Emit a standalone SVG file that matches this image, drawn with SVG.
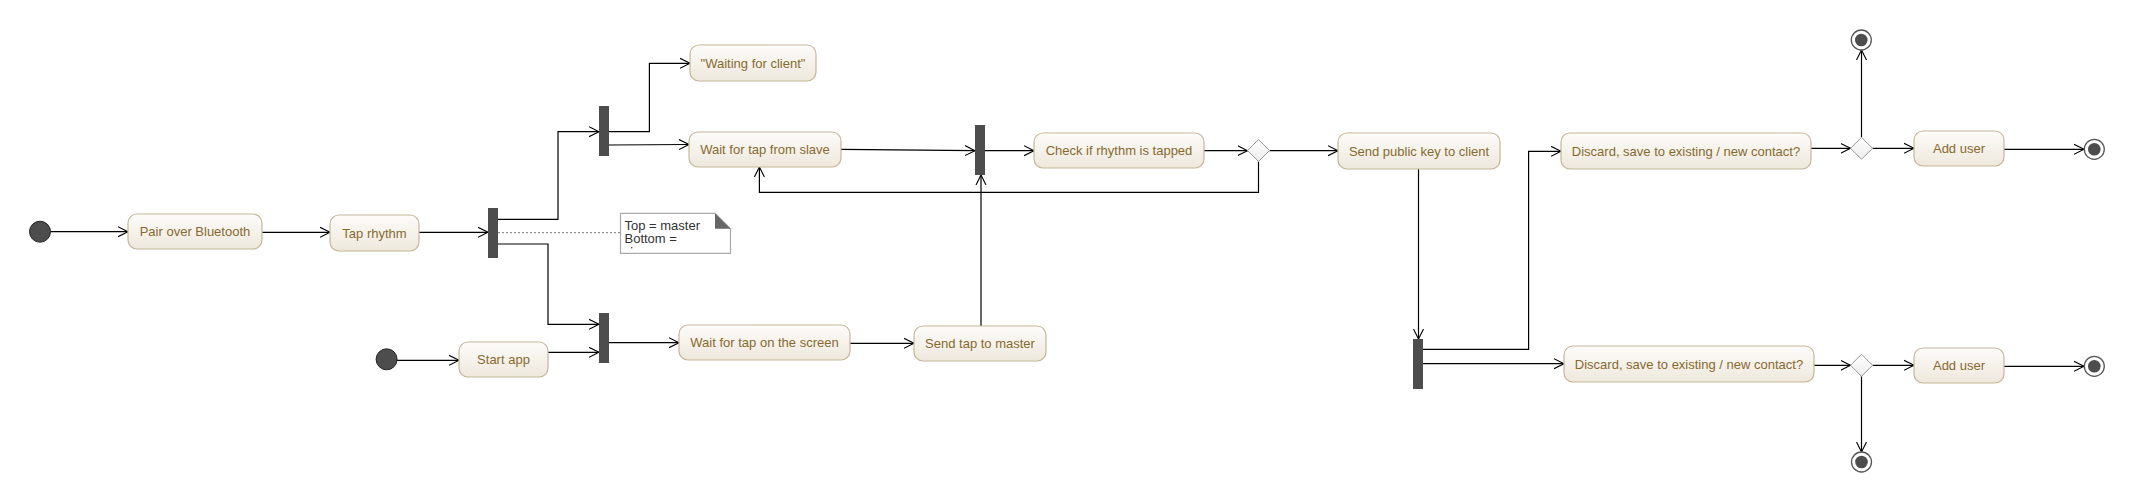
<svg xmlns="http://www.w3.org/2000/svg" width="2134" height="502" viewBox="0 0 2134 502">
<defs>
<linearGradient id="boxg" x1="0" y1="0" x2="0" y2="1">
<stop offset="0" stop-color="#fdfcfa"/>
<stop offset="1" stop-color="#eee8dc"/>
</linearGradient>
<linearGradient id="diag" x1="0" y1="0" x2="0" y2="1">
<stop offset="0" stop-color="#ffffff"/>
<stop offset="1" stop-color="#ececec"/>
</linearGradient>
<marker id="arr" markerUnits="userSpaceOnUse" markerWidth="12" markerHeight="12" refX="10" refY="5" orient="auto" viewBox="0 0 12 10">
<path d="M0,0 L10,5 L0,10" fill="none" stroke="#000" stroke-width="1.1"/>
</marker>
<style>
.act rect{fill:url(#boxg);stroke:#c6b698;stroke-width:1.2}
.act text{font-family:"Liberation Sans",Arial,sans-serif;font-size:13px;fill:#876a2f;text-anchor:middle;dominant-baseline:central}
.bar{fill:#4d4d4d}
.init{fill:#4d4d4d;stroke:#222;stroke-width:1}
.fin-o{fill:#fff;stroke:#555;stroke-width:1.3}
.fin-i{fill:#4d4d4d}
.dec{fill:url(#diag);stroke:#999;stroke-width:1}
#edges path{fill:none;stroke:#000;stroke-width:1.2;marker-end:url(#arr)}
#edges path.dot{stroke:#777;stroke-width:1;stroke-dasharray:2,2;marker-end:none}
.note text{font-family:"Liberation Sans",Arial,sans-serif;font-size:13px;fill:#333}
</style>
</defs>
<rect width="2134" height="502" fill="#fff"/>

<g id="edges">
<path d="M50.5,231.7 H128"/>
<path d="M262,232.3 H330"/>
<path d="M419,232.3 H488"/>
<path d="M498,219.3 H558 V131.7 H599"/>
<path d="M498,244 H548 V324.3 H599"/>
<path class="dot" d="M498,232.7 H620.5"/>
<path d="M397,360.3 H459"/>
<path d="M548,352.3 H599"/>
<path d="M609,131.7 H649.4 V63.3 H690"/>
<path d="M609,145 L689,144.5"/>
<path d="M609,342.7 H679"/>
<path d="M850,343.3 H914"/>
<path d="M981,326 V175"/>
<path d="M841,149.3 L975,150.7"/>
<path d="M985,150.7 H1034"/>
<path d="M1204,150.7 H1247.5"/>
<path d="M1258.5,161.5 V192.3 H759.4 V167"/>
<path d="M1269.5,150.7 H1338"/>
<path d="M1418.5,169 V339"/>
<path d="M1423,349.3 H1528.6 V151.3 H1561"/>
<path d="M1423,363.7 H1564"/>
<path d="M1811,148.3 H1850.5"/>
<path d="M1861.5,137.3 V50"/>
<path d="M1872.5,148.3 H1914"/>
<path d="M2004,149.3 H2084"/>
<path d="M1814,365.3 H1850.5"/>
<path d="M1861.5,376.3 V452"/>
<path d="M1872.5,365.3 H1914"/>
<path d="M2004,366.3 H2084"/>
</g>

<g id="start1"><circle class="init" cx="40" cy="231.7" r="10.5"/></g>
<g id="start2"><circle class="init" cx="386.6" cy="359.3" r="10.5"/></g>

<g id="pair" class="act"><rect x="128" y="214" width="134" height="35" rx="9"/><text x="195" y="231.5">Pair over Bluetooth</text></g>
<g id="tap" class="act"><rect x="330" y="215" width="89" height="36" rx="9"/><text x="374.5" y="233">Tap rhythm</text></g>
<g id="startapp" class="act"><rect x="459" y="342" width="89" height="35" rx="9"/><text x="503.5" y="359.5">Start app</text></g>
<g id="waiting" class="act"><rect x="690" y="45" width="126" height="36" rx="9"/><text x="753" y="63">"Waiting for client"</text></g>
<g id="waitslave" class="act"><rect x="689" y="132" width="152" height="35" rx="9"/><text x="765" y="149.5">Wait for tap from slave</text></g>
<g id="waitscreen" class="act"><rect x="679" y="325" width="171" height="35" rx="9"/><text x="764.5" y="342.5">Wait for tap on the screen</text></g>
<g id="sendtap" class="act"><rect x="914" y="326" width="132" height="35" rx="9"/><text x="980" y="343.5">Send tap to master</text></g>
<g id="check" class="act"><rect x="1034" y="133" width="170" height="35" rx="9"/><text x="1119" y="150.5">Check if rhythm is tapped</text></g>
<g id="sendkey" class="act"><rect x="1338" y="133" width="162" height="36" rx="9"/><text x="1419" y="151">Send public key to client</text></g>
<g id="discard1" class="act"><rect x="1561" y="133" width="250" height="36" rx="9"/><text x="1686" y="151">Discard, save to existing / new contact?</text></g>
<g id="discard2" class="act"><rect x="1564" y="346" width="250" height="36" rx="9"/><text x="1689" y="364">Discard, save to existing / new contact?</text></g>
<g id="add1" class="act"><rect x="1914" y="131" width="90" height="35" rx="9"/><text x="1959" y="148.5">Add user</text></g>
<g id="add2" class="act"><rect x="1914" y="348" width="90" height="35" rx="9"/><text x="1959" y="365.5">Add user</text></g>

<g id="fork1"><rect class="bar" x="488" y="208" width="10" height="50"/></g>
<g id="fork3"><rect class="bar" x="599" y="313" width="10" height="50"/></g>
<g id="fork4"><rect class="bar" x="599" y="106" width="10" height="50"/></g>
<g id="fork2"><rect class="bar" x="975" y="125" width="10" height="50"/></g>
<g id="fork5"><rect class="bar" x="1413" y="339" width="10" height="50"/></g>

<g id="dec1"><path class="dec" d="M1258.5,139.5 L1269.5,150.5 L1258.5,161.5 L1247.5,150.5 Z"/></g>
<g id="dec2"><path class="dec" d="M1861.5,137.3 L1872.5,148.3 L1861.5,159.3 L1850.5,148.3 Z"/></g>
<g id="dec3"><path class="dec" d="M1861.5,354.3 L1872.5,365.3 L1861.5,376.3 L1850.5,365.3 Z"/></g>

<g id="end1"><circle class="fin-o" cx="1861.3" cy="40" r="10"/><circle class="fin-i" cx="1861.3" cy="40" r="6.3"/></g>
<g id="end2"><circle class="fin-o" cx="2094.3" cy="149.3" r="10"/><circle class="fin-i" cx="2094.3" cy="149.3" r="6.3"/></g>
<g id="end3"><circle class="fin-o" cx="2094.3" cy="366.3" r="10"/><circle class="fin-i" cx="2094.3" cy="366.3" r="6.3"/></g>
<g id="end4"><circle class="fin-o" cx="1861.5" cy="462" r="10"/><circle class="fin-i" cx="1861.5" cy="462" r="6.3"/></g>

<g id="note" class="note">
<path d="M620.5,213.3 H715 L730.5,228.7 V253.3 H620.5 Z" fill="#fff" stroke="#aaa" stroke-width="1.2"/>
<path d="M715,213.3 V228.7 H730.5 Z" fill="#666"/>
<text x="624.5" y="230">Top = master</text>
<text x="624.5" y="243">Bottom =</text>
<circle cx="631.7" cy="247.8" r="0.8" fill="#444"/>
</g>
</svg>
